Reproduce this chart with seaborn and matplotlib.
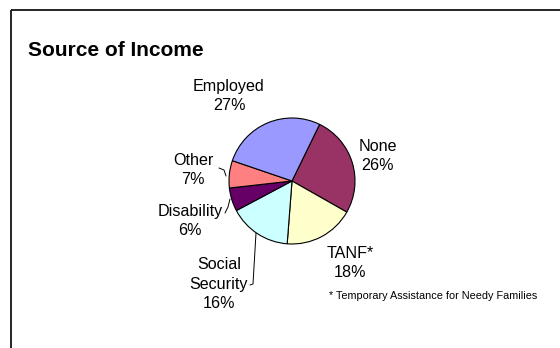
import matplotlib
matplotlib.use("Agg")
import matplotlib.pyplot as plt
import seaborn as sns

sns.set_theme(style="white")
plt.rcParams["font.family"] = ["Liberation Sans", "DejaVu Sans"]

# Slices listed clockwise, starting just right of 12 o'clock
categories = ["None", "TANF*", "Social\nSecurity", "Disability", "Other", "Employed"]
shares = [26, 18, 16, 6, 7, 27]
colors = ["#993366", "#FFFFCC", "#CCFFFF", "#660066", "#FF8080", "#9999FF"]

W, H = 560, 348
fig = plt.figure(figsize=(W / 100, H / 100), dpi=100)
fig.patch.set_facecolor("white")
ax = fig.add_axes([0, 0, 1, 1])


def py(y):
    """Convert a top-down pixel row to the axes' bottom-up coordinate."""
    return H - y


cx, cy, r = 292, py(181), 63
ax.pie(shares, colors=colors, startangle=64, counterclock=False,
       center=(cx, cy), radius=r,
       wedgeprops=dict(edgecolor="black", linewidth=0.8))

ax.set_xlim(0, W)
ax.set_ylim(0, H)
ax.set_aspect("equal")
ax.axis("off")

# Category labels with their percentages
label_pos = {
    "None": (378, 156),
    "TANF*": (350, 263),
    "Social\nSecurity": (219, 284),
    "Disability": (190, 221),
    "Other": (193, 170),
    "Employed": (229, 96),
}
for cat, val in zip(categories, shares):
    x, y = label_pos[cat]
    ax.text(x, py(y), f"{cat}\n{val}%", ha="center", va="center",
            fontsize=11.6, linespacing=1.38, color="black")

# Leader lines for the labels sitting beside the small slices
leaders = [
    [(219, 168), (224, 170), (226, 176)],
    [(225, 213), (228, 207), (230, 199)],
    [(250, 285), (253, 284), (256, 233)],
]
for pts in leaders:
    ax.plot([p[0] for p in pts], [py(p[1]) for p in pts],
            color="black", linewidth=0.7)

# Title and footnote
ax.text(28, py(51), "Source of Income", ha="left", va="center",
        fontsize=15, fontweight="bold", color="black")
ax.text(537, py(296), "* Temporary Assistance for Needy Families",
        ha="right", va="center", fontsize=7.8, color="black")

# Chart area border (top and left edges)
ax.plot([11, W], [py(10), py(10)], color="black", linewidth=1.2,
        solid_capstyle="butt", clip_on=False)
ax.plot([11, 11], [py(10), 0], color="black", linewidth=1.2,
        solid_capstyle="butt", clip_on=False)

fig.savefig("out.png", dpi=100, facecolor="white")
